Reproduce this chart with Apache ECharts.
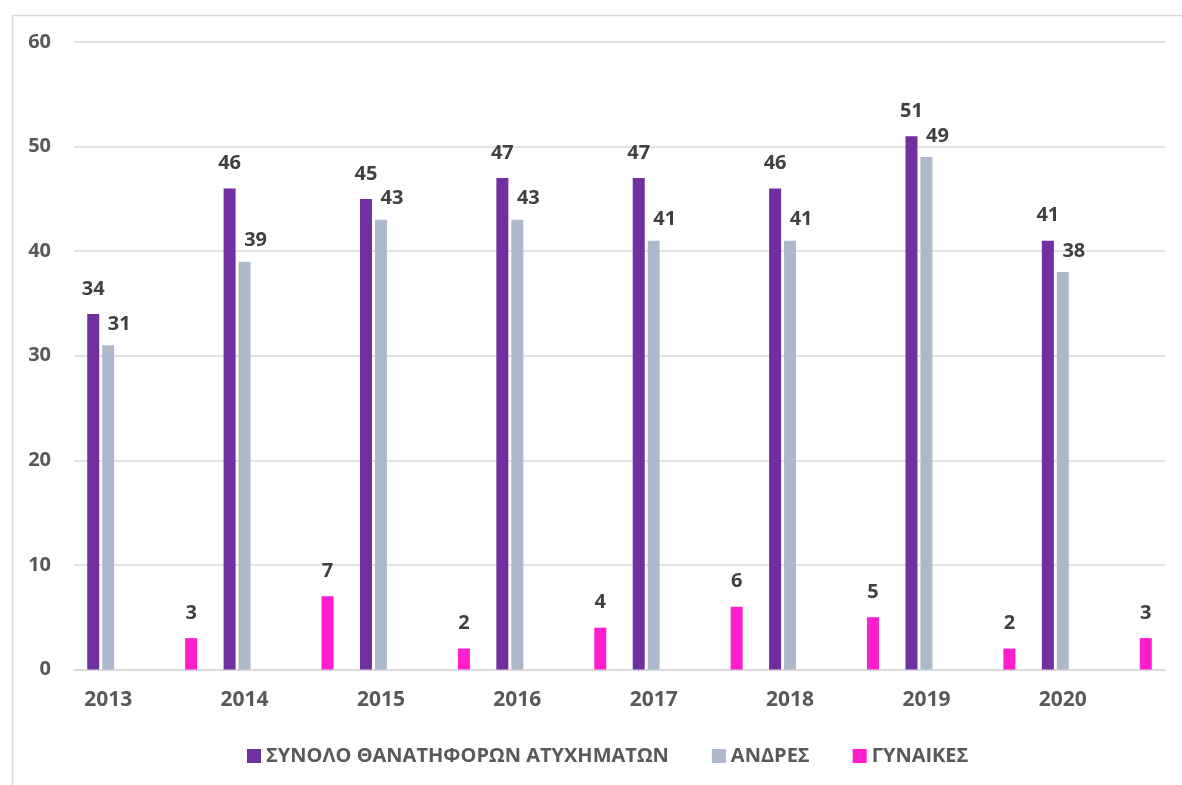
<!DOCTYPE html>
<html>
<head>
<meta charset="utf-8">
<script src="https://cdn.jsdelivr.net/npm/echarts@6/dist/echarts.min.js"></script>
<style>
html,body{margin:0;padding:0;background:#fff;}
#chart{width:1182px;height:785px;}
</style>
</head>
<body>
<div id="chart"></div>
<script>
var years = ['2013','2014','2015','2016','2017','2018','2019','2020'];
var totalDeaths = [34, 46, 45, 47, 47, 46, 51, 41];
var men = [31, 39, 43, 43, 41, 41, 49, 38];
var women = [3, 7, 2, 4, 6, 5, 2, 3];
var seriesNames = ['ΣΥΝΟΛΟ ΘΑΝΑΤΗΦΟΡΩΝ ΑΤΥΧΗΜΑΤΩΝ', 'ΑΝΔΡΕΣ', 'ΓΥΝΑΙΚΕΣ'];
var yTicks = {min: 0, max: 60, interval: 10};

var FONT = "'Open Sans', 'Noto Sans', sans-serif";
function labelStyle(dx, dist) {
  return {
    show: true, position: 'top', distance: dist, offset: [dx, 0],
    fontFamily: FONT, fontWeight: 'bold', fontSize: 20, color: '#404040'
  };
}

var chart = echarts.init(document.getElementById('chart'));
chart.setOption({
  animation: false,
  backgroundColor: '#ffffff',
  graphic: [{
    type: 'rect', left: 10, top: 13, silent: true,
    shape: {width: 1300, height: 900},
    style: {fill: 'none', stroke: '#D9D9D9', lineWidth: 1.5}
  }],
  grid: [
    {left: 74, right: 17, top: 42, bottom: 115.5},
    {left: 40, right: 51, top: 42, bottom: 115.5}
  ],
  legend: {
    data: seriesNames,
    left: 242, top: 741,
    icon: 'rect', itemWidth: 14, itemHeight: 14, itemGap: 43,
    textStyle: {fontFamily: FONT, fontWeight: 'bold', fontSize: 20, color: '#595959'}
  },
  xAxis: [
    {
      type: 'category', gridIndex: 0, data: years,
      axisLine: {lineStyle: {color: '#D9D9D9', width: 1.5}},
      axisTick: {show: false}, axisLabel: {show: false}
    },
    {
      type: 'category', gridIndex: 1, data: years,
      axisLine: {show: false}, axisTick: {show: false},
      axisLabel: {margin: 20, fontFamily: FONT, fontWeight: 'bold', fontSize: 21, color: '#595959'}
    }
  ],
  yAxis: [
    {
      type: 'value', gridIndex: 0, min: yTicks.min, max: yTicks.max, interval: yTicks.interval,
      axisLine: {show: false}, axisTick: {show: false},
      splitLine: {lineStyle: {color: '#D9D9D9', width: 1.5}},
      axisLabel: {margin: 23, fontFamily: FONT, fontWeight: 'bold', fontSize: 20, color: '#595959'}
    },
    {
      type: 'value', gridIndex: 1, min: yTicks.min, max: yTicks.max, interval: yTicks.interval,
      show: false, splitLine: {show: false}
    }
  ],
  series: [
    {
      name: seriesNames[0], type: 'bar', xAxisIndex: 0, yAxisIndex: 0,
      data: totalDeaths, barWidth: 12, barGap: '716%',
      itemStyle: {color: '#7030A0'}, label: labelStyle(0, 15)
    },
    {
      name: seriesNames[2], type: 'bar', xAxisIndex: 0, yAxisIndex: 0,
      data: women, barWidth: 12, barGap: '716%',
      itemStyle: {color: '#FF1DCC'}, label: labelStyle(0, 15)
    },
    {
      name: seriesNames[1], type: 'bar', xAxisIndex: 1, yAxisIndex: 1,
      data: men, barWidth: 12,
      itemStyle: {color: '#ADB9CA'}, label: labelStyle(11, 11)
    }
  ]
});
</script>
</body>
</html>
